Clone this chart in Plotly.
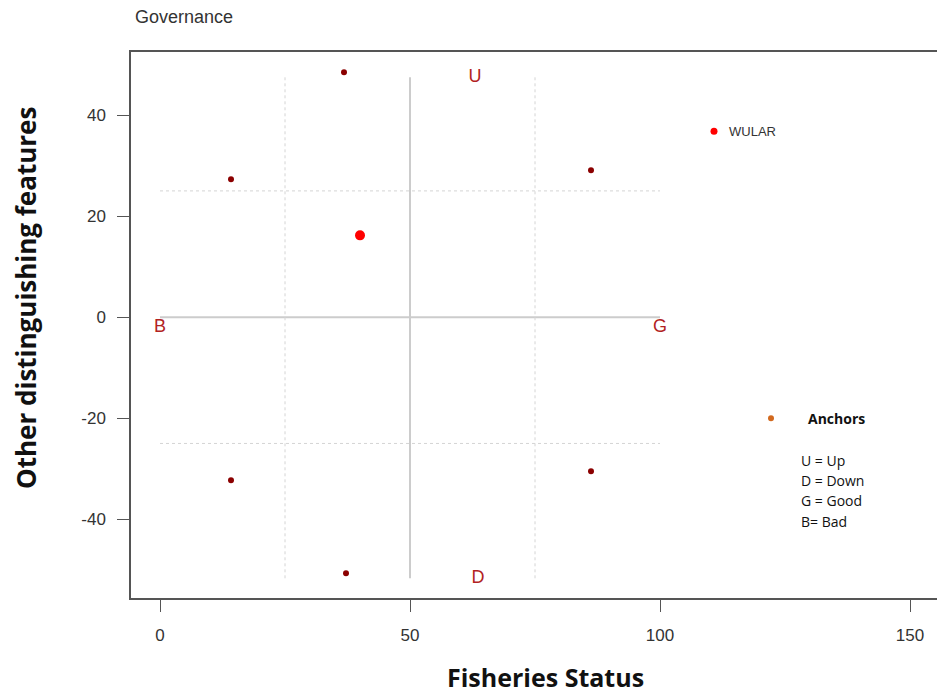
import plotly.graph_objects as go

# ---- data ----
ref_x = [36.8, 14.2, 86.2, 14.2, 86.2, 37.2]
ref_y = [48.5, 27.3, 29.1, -32.3, -30.5, -50.7]
site_x = [40.0]
site_y = [16.2]
wular_x = [110.8]
wular_y = [36.8]
wular_label = ["WULAR"]
anchor_key_x = [122.2]
anchor_key_y = [-20.0]
anchor_letters = ["U", "D", "B", "G"]
anchor_letter_x = [63.0, 63.6, 0.0, 100.0]
anchor_letter_y = [47.5, -51.7, -2.0, -2.0]
key_lines = ["U = Up", "D = Down", "G = Good", "B= Bad"]
key_y = [-28.3, -32.3, -36.2, -40.4]
x_ticks = [0, 50, 100, 150]
x_tick_labels = ["0", "50", "100", "150"]
y_ticks = [-40, -20, 0, 20, 40]
y_tick_labels = ["-40", "-20", "0", "20", "40"]

# guide lines
solid_h_x = [0, 100]; solid_h_y = [0, 0]
solid_v_x = [50, 50]; solid_v_y = [-51.7, 47.5]
dot_v_xs = [25, 75]
dot_h_ys = [25, -25]
guide_lo, guide_hi = -51.7, 47.5

fig = go.Figure()
GRID = "#cccccc"
fig.add_trace(go.Scatter(x=solid_h_x, y=solid_h_y, mode="lines",
                         line=dict(color=GRID, width=2), hoverinfo="skip"))
fig.add_trace(go.Scatter(x=solid_v_x, y=solid_v_y, mode="lines",
                         line=dict(color=GRID, width=2), hoverinfo="skip"))
for xv in dot_v_xs:
    fig.add_trace(go.Scatter(x=[xv, xv], y=[guide_lo, guide_hi], mode="lines",
                             line=dict(color="#d4d4d4", width=1, dash="dot"), hoverinfo="skip"))
for yv in dot_h_ys:
    fig.add_trace(go.Scatter(x=[0, 100], y=[yv, yv], mode="lines",
                             line=dict(color="#d4d4d4", width=1, dash="dot"), hoverinfo="skip"))

fig.add_trace(go.Scatter(x=ref_x, y=ref_y, mode="markers",
                         marker=dict(color="#8b0000", size=6)))
fig.add_trace(go.Scatter(x=site_x, y=site_y, mode="markers",
                         marker=dict(color="#ff0000", size=10)))
fig.add_trace(go.Scatter(x=wular_x, y=wular_y, mode="markers",
                         marker=dict(color="#ff0000", size=7)))
fig.add_trace(go.Scatter(x=anchor_key_x, y=anchor_key_y, mode="markers",
                         marker=dict(color="#d2691e", size=6)))
fig.add_trace(go.Scatter(x=anchor_letter_x, y=anchor_letter_y, mode="text",
                         text=anchor_letters,
                         textfont=dict(color="#b22222", size=18, family="Liberation Sans")))

ann = []
ann.append(dict(x=wular_x[0] + 2.5, y=wular_y[0], text=wular_label[0], xanchor="left",
                yanchor="middle", showarrow=False,
                font=dict(size=13, color="#333333", family="Liberation Sans")))
ann.append(dict(x=anchor_key_x[0] + 7, y=anchor_key_y[0], text="<b>Anchors</b>", xanchor="left",
                yanchor="middle", showarrow=False,
                font=dict(size=14, color="#111111", family="Open Sans")))
for t, yv in zip(key_lines, key_y):
    ann.append(dict(x=127.8, y=yv, text=t, xanchor="left", yanchor="middle", showarrow=False,
                    font=dict(size=14, color="#111111", family="Open Sans")))
ann.append(dict(xref="paper", yref="paper", x=0.003, y=1.064, text="Governance",
                xanchor="left", yanchor="middle", showarrow=False,
                font=dict(size=18, color="#333333", family="Liberation Sans")))
ann.append(dict(xref="paper", yref="paper", x=(545 - 131) / 806, y=-(677 - 598) / 546,
                text="<b>Fisheries Status</b>", xanchor="center", yanchor="middle",
                showarrow=False, font=dict(size=25, color="#111111", family="Open Sans")))
ann.append(dict(xref="paper", yref="paper", x=(26 - 131) / 806, y=(598 - 298) / 546,
                text="<b>Other distinguishing features</b>", textangle=-90,
                xanchor="center", yanchor="middle", showarrow=False,
                font=dict(size=26, color="#111111", family="Open Sans")))

fig.update_layout(
    width=937, height=693,
    margin=dict(l=131, r=0, t=52, b=95),
    paper_bgcolor="white", plot_bgcolor="white",
    showlegend=False,
    annotations=ann,
    font=dict(family="Liberation Sans", color="#333333"),
)
fig.update_xaxes(range=[-5.8, 155.4], tickvals=x_ticks, ticktext=x_tick_labels,
                 ticks="outside", ticklen=12,
                 tickcolor="#555555", tickwidth=1, showline=True, linecolor="#555555",
                 linewidth=1.5, mirror=True, showgrid=False, zeroline=False,
                 tickfont=dict(size=17, color="#333333"), ticklabelstandoff=9)
fig.update_yaxes(range=[-55.6, 52.5], tickvals=y_ticks, ticktext=y_tick_labels,
                 ticks="outside", ticklen=12,
                 tickcolor="#555555", tickwidth=1, showline=True, linecolor="#555555",
                 linewidth=1.5, showgrid=False, zeroline=False,
                 tickfont=dict(size=17, color="#333333"), ticklabelstandoff=8)

fig.write_html("out.html", config={"displayModeBar": False},
               post_script="document.body.style.margin='0px';")
